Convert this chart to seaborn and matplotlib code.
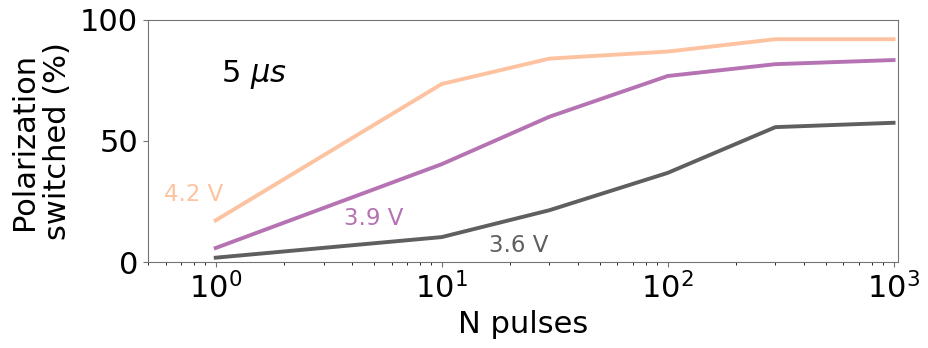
import numpy as np
import pandas as pd
import matplotlib
matplotlib.use('Agg')
import matplotlib.pyplot as plt
import seaborn as sns

# data
n_pulses = [1, 10, 30, 100, 300, 1000]
sw_42 = [17.2, 73.5, 84.0, 86.9, 92.0, 92.0]
sw_39 = [5.8, 40.4, 60.0, 76.8, 81.7, 83.4]
sw_36 = [1.8, 10.3, 21.4, 36.8, 55.7, 57.5]
voltages = ['4.2 V', '3.9 V', '3.6 V']
colors = {'4.2 V': '#fdc3a0', '3.9 V': '#b673b4', '3.6 V': '#5f5f5f'}

df = pd.DataFrame({
    'N': n_pulses * 3,
    'switched': sw_42 + sw_39 + sw_36,
    'V': [v for v in voltages for _ in n_pulses],
})

plt.rcParams['font.family'] = ['DejaVu Sans']
fig = plt.figure(figsize=(9.29, 3.48), dpi=100)
ax = fig.add_axes([0.159, 0.247, 0.808, 0.696])

sns.lineplot(data=df, x='N', y='switched', hue='V', palette=colors,
             linewidth=2.8, legend=False, ax=ax)

ax.set_xscale('log')
ax.set_xlim(0.5, 1050)
ax.set_ylim(0, 100)
ax.set_yticks([0, 50, 100])
ax.tick_params(labelsize=22, color='0.45')
for s in ax.spines.values():
    s.set_color('0.45')

ax.set_xlabel('N pulses', fontsize=22)
ax.set_ylabel('Polarization\nswitched (%)', fontsize=22, linespacing=1.15, labelpad=6)

ax.text(0.097, 0.745, r'5 $\mu s$', transform=ax.transAxes, fontsize=22)
ax.text(0.022, 0.25, '4.2 V', transform=ax.transAxes, fontsize=16.5, color=colors['4.2 V'])
ax.text(0.261, 0.155, '3.9 V', transform=ax.transAxes, fontsize=16.5, color=colors['3.9 V'])
ax.text(0.455, 0.04, '3.6 V', transform=ax.transAxes, fontsize=16.5, color=colors['3.6 V'])

fig.savefig('out.png', dpi=100)
